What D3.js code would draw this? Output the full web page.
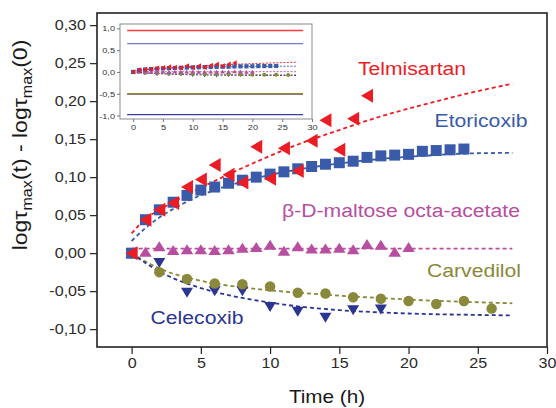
<!DOCTYPE html>
<html><head><meta charset="utf-8">
<script src="https://cdn.jsdelivr.net/npm/d3@7"></script>
<style>body{margin:0;background:#fff}svg{display:block}text{font-family:"Liberation Sans",Arial,sans-serif}</style>
</head><body><div id="c"></div>
<script>
// ---- data ----
const etoT = [0,1,2,3,4,5,6,7,8,9,10,11,12,13,14,15,16,17,18,19,20,21,22,23,24];
const etoV = [0,0.044,0.057,0.067,0.076,0.083,0.087,0.092,0.096,0.100,0.104,0.107,0.111,0.114,0.117,0.119,0.121,0.126,0.128,0.129,0.130,0.134,0.135,0.136,0.137];
const telT = [0,1,2,3,4,5,6,7,8,9,10,11,12,13,14,15,16,17];
const telV = [0,0.044,0.057,0.066,0.087,0.097,0.116,0.103,0.093,0.140,0.098,0.138,0.108,0.148,0.175,0.136,0.177,0.207];
const malT = [0,1,2,3,4,5,6,7,8,9,10,11,12,13,14,15,16,17,18,19,20];
const malV = [0,0.002,0.009,0.004,0.005,0.005,0.004,0.005,0.007,0.008,0.011,0.003,0.009,0.006,0.006,0.007,0.005,0.012,0.011,0.002,0.008];
const carT = [0,2,4,6,8,10,12,14,16,18,20,22,24,26];
const carV = [0,-0.025,-0.034,-0.040,-0.041,-0.044,-0.052,-0.053,-0.058,-0.060,-0.063,-0.067,-0.063,-0.073];
const celT = [0,2,4,6,8,10,12,14,16,18];
const celV = [0,-0.013,-0.052,-0.050,-0.050,-0.071,-0.077,-0.085,-0.075,-0.074];
// fitted curves
const fitT = [0,1,2,3,4,6,8,10,12,15,18,21,24,27.5];
const telFit = [0.026,0.045,0.057,0.067,0.077,0.095,0.112,0.128,0.143,0.162,0.180,0.195,0.209,0.223];
const etoFit = [0.016,0.033,0.047,0.058,0.068,0.083,0.094,0.103,0.110,0.118,0.124,0.128,0.131,0.132];
const malFit = [0.006,0.006,0.006,0.006,0.006,0.006,0.006,0.006,0.006,0.006,0.006,0.006,0.006,0.006];
const carFit = [0,-0.011,-0.020,-0.027,-0.032,-0.040,-0.045,-0.049,-0.052,-0.056,-0.059,-0.062,-0.064,-0.066];
const celFit = [0,-0.013,-0.024,-0.033,-0.040,-0.051,-0.059,-0.065,-0.070,-0.075,-0.078,-0.080,-0.081,-0.082];
const names = ["Telmisartan","Etoricoxib","β-D-maltose octa-acetate","Carvedilol","Celecoxib"];
const yTicks = [-0.10,-0.05,0,0.05,0.10,0.15,0.20,0.25,0.30];
const xTicks = [0,5,10,15,20,25,30];
const insetYTicks = [-1,-0.5,0,0.5,1];
const insetLineT = [-1,28.5];
const insetLineV = [0.95,0.65,-0.515,-0.5,-0.98];

// ---- styles ----
const C = {tel:"#ec1c24", eto:"#3a5aaa", mal:"#b84ea0", car:"#8a883a", cel:"#2b3592"};
const insetLineC = ["#ff3b3b","#6f7dcc","#8a4a8a","#8f8d3a","#3b3fa0"];
const insetLineW = [1.4,1.4,1.0,1.4,1.4];
const SX = 1.15;

const W=556,H=408;
const svg = d3.select("#c").append("svg").attr("width",W).attr("height",H);
const x = d3.scaleLinear().domain([-2.5,30]).range([97,547]);
const y = d3.scaleLinear().domain([-0.1235,0.316]).range([347,13]);

const fmt = v => d3.format(".2f")(v).replace(".",",").replace("\u2212","-");

// axes
const gy = svg.append("g").attr("transform","translate(97,0)");
gy.call(d3.axisLeft(y).tickValues(d3.range(-0.125,0.3151,0.025)).tickSize(3).tickFormat("").tickSizeOuter(0));
gy.call(d3.axisLeft(y).tickValues(yTicks).tickSize(7).tickFormat(fmt).tickSizeOuter(0));
gy.selectAll("path.domain").remove();
gy.selectAll("line").attr("stroke","#222").attr("stroke-width",1.2);
gy.selectAll("text").attr("font-size",14).attr("fill","#2a2a2a").attr("x",-11/SX).attr("transform",`scale(${SX},1)`);

const gx = svg.append("g").attr("transform","translate(0,347)");
gx.call(d3.axisBottom(x).tickValues(d3.range(-2.5,30.01,2.5)).tickSize(3).tickFormat("").tickSizeOuter(0));
gx.call(d3.axisBottom(x).tickValues(xTicks).tickSize(7).tickFormat(d3.format("d")).tickSizeOuter(0));
gx.selectAll("path.domain").remove();
gx.selectAll("line").attr("stroke","#222").attr("stroke-width",1.2);
gx.selectAll("text").attr("font-size",14).attr("fill","#2a2a2a").attr("y",11).attr("transform",`scale(${SX},1)`);

// frame
svg.append("rect").attr("x",97).attr("y",13).attr("width",450).attr("height",334)
  .attr("fill","none").attr("stroke","#222").attr("stroke-width",1.6);

// axis titles
svg.append("text").attr("transform",`translate(327,403) scale(${SX},1)`).attr("text-anchor","middle")
  .attr("font-size",18).attr("fill","#1a1a1a").text("Time (h)");
const yt = svg.append("text").attr("transform",`translate(27,145) rotate(-90) scale(${SX},1)`)
  .attr("text-anchor","middle").attr("font-size",20).attr("fill","#1a1a1a");
yt.append("tspan").text("log\u03c4");
yt.append("tspan").attr("font-size",14).attr("dy",5).text("max");
yt.append("tspan").attr("dy",-5).text("(t) - log\u03c4");
yt.append("tspan").attr("font-size",14).attr("dy",5).text("max");
yt.append("tspan").attr("dy",-5).text("(0)");

// ---- series drawing helpers ----
const lineGen = (xs,ys) => d3.line().x((d,i)=>xs(fitT[i])).y(d=>ys(d)).curve(d3.curveMonotoneX);
function shapePath(kind, s){
  const w=s.w, h=s.h;
  if(kind==="left") return `M${-w/2},0L${w/2},${-h/2}L${w/2},${h/2}Z`;
  if(kind==="up") return `M0,${-h/2}L${w/2},${h/2}L${-w/2},${h/2}Z`;
  if(kind==="down") return `M0,${h/2}L${w/2},${-h/2}L${-w/2},${-h/2}Z`;
  if(kind==="square") return `M${-w/2},${-h/2}h${w}v${h}h${-w}Z`;
  return null;
}
function drawSeries(g, xs, ys, big){
  const lw = big?1.8:0.9, da = big?"4,3":"2,1.5";
  const fits = [[telFit,C.tel],[etoFit,C.eto],[malFit,C.mal],[carFit,C.car],[celFit,C.cel]];
  fits.forEach(([v,c])=>{
    g.append("path").datum(v).attr("d",lineGen(xs,ys)).attr("fill","none")
      .attr("stroke",c).attr("stroke-width",lw).attr("stroke-dasharray",da);
  });
  const k = big?1:0.38;
  const sets = [
    [celT,celV,C.cel,"down",{w:12*k,h:10*k}],
    [carT,carV,C.car,"circle",{w:10.5*k}],
    [malT,malV,C.mal,"up",{w:12.5*k,h:10*k}],
    [etoT,etoV,C.eto,"square",{w:11*k,h:11*k}],
    [telT,telV,C.tel,"left",{w:12*k,h:14*k}]
  ];
  sets.forEach(([ts,vs,c,kind,s])=>{
    const sel = g.append("g").selectAll("*").data(ts.map((t,i)=>[t,vs[i]]));
    if(kind==="circle"){
      sel.join("circle").attr("cx",d=>xs(d[0])).attr("cy",d=>ys(d[1])).attr("r",s.w/2).attr("fill",c);
    } else {
      sel.join("path").attr("d",shapePath(kind,s)).attr("transform",d=>`translate(${xs(d[0])},${ys(d[1])})`).attr("fill",c);
    }
  });
}
drawSeries(svg.append("g"), x, y, true);

// labels
const labels = [
  [names[0], 412, 75, C.tel],
  [names[1], 481, 127, C.eto],
  [names[2], 401, 217, C.mal],
  [names[3], 474, 277, C.car],
  [names[4], 197, 324, C.cel]
];
labels.forEach(([t,lx,ly,c])=>{
  svg.append("text").attr("transform",`translate(${lx},${ly}) scale(${SX},1)`).attr("text-anchor","middle")
    .attr("font-size",18.4).attr("fill",c).text(t);
});

// ---- inset ----
const ix = d3.scaleLinear().domain([-2.2,30]).range([120,312]);
const iy = d3.scaleLinear().domain([-1.08,1.1]).range([119,24]);
const ig = svg.append("g");
ig.append("rect").attr("x",120).attr("y",24).attr("width",192).attr("height",95).attr("fill","#fff")
  .attr("stroke","#8a8a8a").attr("stroke-width",1);
insetLineV.forEach((v,i)=>{
  ig.append("line").attr("x1",ix(insetLineT[0])).attr("x2",ix(insetLineT[1])).attr("y1",iy(v)).attr("y2",iy(v))
    .attr("stroke",insetLineC[i]).attr("stroke-width",insetLineW[i]);
});
drawSeries(ig.append("g"), ix, iy, false);
const igy = ig.append("g").attr("transform","translate(120,0)")
  .call(d3.axisLeft(iy).tickValues(insetYTicks).tickSize(3).tickFormat(v=>d3.format(".1f")(v).replace(".",",").replace("\u2212","-")));
igy.select("path.domain").remove();
igy.selectAll("line").attr("stroke","#777");
igy.selectAll("text").attr("font-size",8).attr("fill","#333").attr("x",-5/SX).attr("transform",`scale(${SX},1)`);
const igx = ig.append("g").attr("transform","translate(0,119)")
  .call(d3.axisBottom(ix).tickValues(xTicks).tickSize(3).tickFormat(d3.format("d")));
igx.select("path.domain").remove();
igx.selectAll("line").attr("stroke","#777");
igx.selectAll("text").attr("font-size",8).attr("fill","#333").attr("y",5).attr("transform",`scale(${SX},1)`);
</script></body></html>
